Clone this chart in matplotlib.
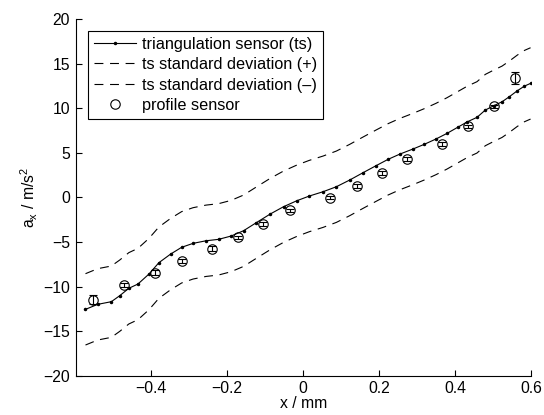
import numpy as np
import matplotlib
matplotlib.use('Agg')
import matplotlib.pyplot as plt
from matplotlib.lines import Line2D

plt.rcParams['font.family'] = ['Liberation Sans', 'DejaVu Sans']
plt.rcParams['mathtext.fontset'] = 'custom'
plt.rcParams['mathtext.rm'] = 'Liberation Sans'
plt.rcParams['mathtext.it'] = 'Liberation Sans'

# triangulation sensor (ts)
ts_x = [-0.572, -0.540, -0.504, -0.482, -0.458, -0.434, -0.405, -0.379, -0.348, -0.319,
        -0.289, -0.255, -0.222, -0.189, -0.156, -0.123, -0.086, -0.051, -0.016, 0.017,
        0.053, 0.088, 0.123, 0.158, 0.192, 0.224, 0.255, 0.289, 0.319, 0.350,
        0.379, 0.407, 0.433, 0.458, 0.480, 0.502, 0.524, 0.543, 0.564, 0.583, 0.599]
ts_y = [-12.56, -12.0, -11.7, -11.03, -10.2, -9.72, -8.6, -7.33, -6.36, -5.6,
        -5.16, -4.87, -4.71, -4.34, -3.74, -2.85, -1.87, -1.05, -0.38, 0.15,
        0.63, 1.19, 1.94, 2.76, 3.54, 4.26, 4.85, 5.41, 5.94, 6.54,
        7.17, 7.85, 8.48, 8.97, 9.79, 10.27, 10.72, 11.28, 11.95, 12.48, 12.78]
ts_std = 4.0

# profile sensor
ps_x = [-0.551, -0.471, -0.390, -0.318, -0.238, -0.172, -0.104, -0.034,
        0.072, 0.142, 0.208, 0.274, 0.365, 0.434, 0.503, 0.559]
ps_y = [-11.5, -9.83, -8.45, -7.11, -5.76, -4.48, -2.99, -1.46,
        -0.04, 1.27, 2.76, 4.33, 6.01, 7.96, 10.2, 13.4]
ps_err = [0.5, 0.2, 0.25, 0.2, 0.25, 0.2, 0.2, 0.2,
          0.2, 0.2, 0.2, 0.2, 0.2, 0.2, 0.2, 0.7]

x_ticks = [-0.4, -0.2, 0, 0.2, 0.4, 0.6]
y_ticks = [-20, -15, -10, -5, 0, 5, 10, 15, 20]

ts_x = np.array(ts_x)
ts_y = np.array(ts_y)

fs = 11.3

fig = plt.figure(figsize=(5.44, 4.15), dpi=100)
ax = fig.add_axes([0.139, 0.0947, 0.837, 0.8595])

ax.plot(ts_x, ts_y, '-', color='black', lw=0.8, marker='.', markersize=3)
ax.plot(ts_x, ts_y + ts_std, color='black', lw=0.8, dashes=(8, 6))
ax.plot(ts_x, ts_y - ts_std, color='black', lw=0.8, dashes=(8, 6))
ax.errorbar(ps_x, ps_y, yerr=ps_err, fmt='o', mfc='none', mec='black',
            ecolor='black', markersize=6.8, mew=0.8, elinewidth=0.8,
            capsize=2.9, capthick=0.8)

ax.set_xlim(-0.598, 0.6)
ax.set_ylim(-20, 20)
ax.set_xticks(x_ticks)
ax.set_yticks(y_ticks)
ax.set_xticklabels(['\u22120.4', '\u22120.2', '0', '0.2', '0.4', '0.6'])
ax.set_yticklabels(['\u221220', '\u221215', '\u221210', '\u22125', '0', '5', '10', '15', '20'])
ax.tick_params(direction='in', length=4, width=0.8, labelsize=fs, pad=4)
ax.spines['top'].set_visible(False)
ax.spines['right'].set_visible(False)
ax.spines['left'].set_linewidth(0.8)
ax.spines['bottom'].set_linewidth(0.8)

ax.set_xlabel('x / mm', fontsize=fs, labelpad=0)
ax.set_ylabel(r'a$_\mathregular{x}$ / m/s$^\mathregular{2}$', fontsize=fs, labelpad=2)

handles = [
    Line2D([], [], color='black', lw=0.8, marker='.', markersize=3, markevery=[1]),
    Line2D([], [], color='black', lw=0.8, dashes=(8, 6)),
    Line2D([], [], color='black', lw=0.8, dashes=(8, 6)),
    Line2D([], [], color='black', ls='none', marker='o', mfc='none', markersize=6.8, mew=0.8),
]
labels = ['triangulation sensor (ts)', 'ts standard deviation (+)',
          'ts standard deviation (\u2013)', 'profile sensor']
leg = ax.legend(handles, labels, loc='upper left', bbox_to_anchor=(0.027, 0.966),
                fontsize=11.7, frameon=True, fancybox=False, framealpha=1,
                edgecolor='black', borderpad=0.35, labelspacing=0.33,
                handlelength=2.6, handletextpad=0.4, borderaxespad=0)
leg.get_frame().set_linewidth(0.8)

fig.savefig('out.png', dpi=100)
